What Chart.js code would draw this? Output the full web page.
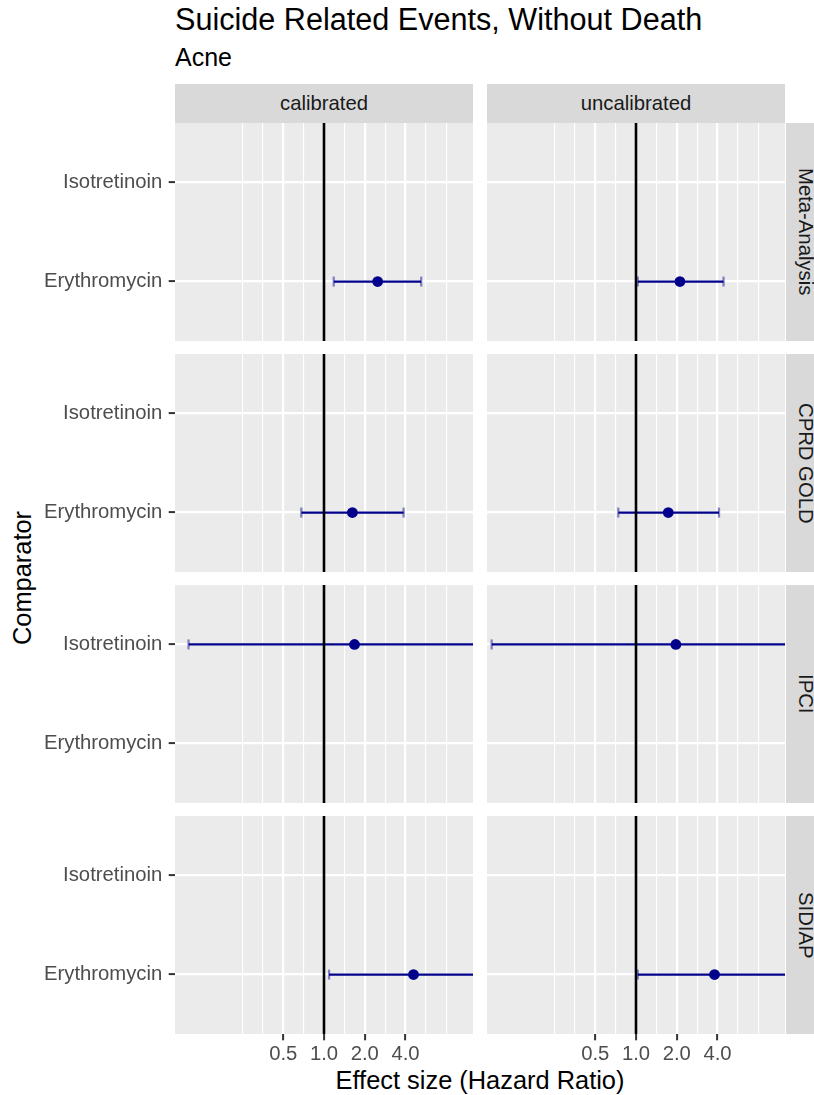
<!DOCTYPE html>
<html><head><meta charset="utf-8">
<script src="https://cdn.jsdelivr.net/npm/chart.js@4.4.0/dist/chart.umd.min.js"></script>
<style>
html,body{margin:0;padding:0;background:#fff;width:814px;height:1095px;overflow:hidden;position:relative;font-family:"Liberation Sans",Arial,sans-serif;}
.txt{position:absolute;white-space:nowrap;line-height:1;}
.strip{position:absolute;background:#D9D9D9;color:#1A1A1A;font-size:20.3px;display:flex;align-items:center;justify-content:center;overflow:hidden;}
.vstrip{writing-mode:vertical-rl;}
canvas{position:absolute;}
</style></head><body>
<div class="txt" style="left:175px;top:4.4px;font-size:30.6px;color:#000;">Suicide Related Events, Without Death</div>
<div class="txt" style="left:175px;top:44.8px;font-size:25px;color:#000;">Acne</div>
<div class="txt" style="left:480px;top:1067.8px;font-size:25.4px;color:#000;transform:translateX(-50%);">Effect size (Hazard Ratio)</div>
<div class="txt" style="left:23px;top:578px;font-size:25.4px;color:#000;transform:translate(-50%,-50%) rotate(-90deg);">Comparator</div>
<script>
// ---- data ----
const comparators = ['Erythromycin', 'Isotretinoin'];
const databases = ['Meta-Analysis', 'CPRD GOLD', 'IPCI', 'SIDIAP'];
const calibrations = ['calibrated', 'uncalibrated'];
const estDatabase = ['Meta-Analysis', 'Meta-Analysis', 'CPRD GOLD', 'CPRD GOLD', 'IPCI', 'IPCI', 'SIDIAP', 'SIDIAP'];
const estCalibration = ['calibrated', 'uncalibrated', 'calibrated', 'uncalibrated', 'calibrated', 'uncalibrated', 'calibrated', 'uncalibrated'];
const estComparator = ['Erythromycin', 'Erythromycin', 'Erythromycin', 'Erythromycin', 'Isotretinoin', 'Isotretinoin', 'Erythromycin', 'Erythromycin'];
const hazardRatio = [2.49, 2.11, 1.62, 1.73, 1.68, 1.97, 4.58, 3.80];
const ciLower = [1.18, 1.03, 0.68, 0.74, 0.10, 0.086, 1.09, 1.03];
const ciUpper = [5.22, 4.43, 3.87, 4.10, 28.2, 45.4, 19.2, 14.0];
const xGridValues = [0.25, 0.3536, 0.5, 0.7071, 1, 1.4142, 2, 2.8284, 4, 5.6569, 8];
const xLabelValues = [0.5, 1, 2, 4];
const xTickLabels = ['0.5', '1.0', '2.0', '4.0'];
const xLimits = [0.1, 10];
const refLine = 1;

// ---- layout ----
const colX = [175, 487];
const panelW = 298;
const rowY = [123, 354, 585, 816];
const panelH = 218;
const axisLeftW = 175;
const axisBottomH = 32;
const FONT = '"Liberation Sans", Arial, sans-serif';

function near(a, b) { return Math.abs(a - b) < 1e-6 * Math.max(1, Math.abs(b)); }
function labelIndex(v) { return xLabelValues.findIndex(l => near(l, v)); }

// strips
calibrations.forEach((cal, c) => {
  const d = document.createElement('div');
  d.className = 'strip';
  d.style.cssText = `left:${colX[c]}px;top:84px;width:${panelW}px;height:39px;`;
  d.textContent = cal;
  document.body.appendChild(d);
});
databases.forEach((db, r) => {
  const d = document.createElement('div');
  d.className = 'strip';
  d.style.cssText = `left:786px;top:${rowY[r]}px;width:39px;height:${panelH}px;`;
  const s = document.createElement('span');
  s.className = 'vstrip';
  s.textContent = db;
  d.appendChild(s);
  document.body.appendChild(d);
});

const panelBg = {
  id: 'panelBg',
  beforeDraw(chart) {
    const { ctx, chartArea: a } = chart;
    ctx.save();
    ctx.fillStyle = '#EBEBEB';
    ctx.fillRect(a.left, a.top, a.right - a.left, a.bottom - a.top);
    ctx.restore();
  }
};

// expanded log limits (5% each side in log space)
const lMin = Math.log10(xLimits[0]), lMax = Math.log10(xLimits[1]);
const ext = (lMax - lMin) * 0.05;
const xMin = Math.pow(10, lMin - ext), xMax = Math.pow(10, lMax + ext);
const yMin = 1 - 0.6, yMax = comparators.length + 0.6;

databases.forEach((db, r) => {
  calibrations.forEach((cal, c) => {
    const isLeft = c === 0, isBottom = r === databases.length - 1;
    const cv = document.createElement('canvas');
    const left = isLeft ? colX[c] - axisLeftW : colX[c];
    const w = isLeft ? panelW + axisLeftW : panelW;
    const h = panelH + (isBottom ? axisBottomH : 0);
    cv.width = w; cv.height = h;
    cv.style.left = left + 'px'; cv.style.top = rowY[r] + 'px';
    cv.style.width = w + 'px'; cv.style.height = h + 'px';
    document.body.appendChild(cv);

    const datasets = [{
      type: 'scatter', showLine: true,
      data: [{ x: refLine, y: yMin }, { x: refLine, y: yMax }],
      borderColor: '#000000', borderWidth: 2.6, pointRadius: 0, order: 2, clip: 0
    }];
    estDatabase.forEach((d, i) => {
      if (d !== db || estCalibration[i] !== cal) return;
      const y = comparators.indexOf(estComparator[i]) + 1;
      datasets.push({
        type: 'scatter', showLine: true,
        data: [{ x: ciLower[i], y }, { x: ciUpper[i], y }],
        borderColor: '#00008B', borderWidth: 2.3, pointRadius: 0, order: 4, clip: 0
      });
      datasets.push({
        type: 'scatter', showLine: false,
        data: [{ x: ciLower[i], y }, { x: ciUpper[i], y }],
        pointStyle: 'line', rotation: 90, pointRadius: 5,
        borderColor: 'rgba(0,0,139,0.45)', pointBorderColor: 'rgba(0,0,139,0.45)', pointBorderWidth: 2.3, order: 3, clip: 0
      });
      datasets.push({
        type: 'scatter', showLine: false,
        data: [{ x: hazardRatio[i], y }],
        pointRadius: 5.4, pointBackgroundColor: '#00008B', pointBorderWidth: 0, order: 1, clip: 0
      });
    });

    new Chart(cv, {
      type: 'scatter',
      data: { datasets },
      plugins: [panelBg],
      options: {
        responsive: false, animation: false, devicePixelRatio: 1,
        events: [],
        layout: { padding: 0, autoPadding: false },
        plugins: { legend: { display: false }, tooltip: { enabled: false } },
        scales: {
          x: {
            type: 'logarithmic', min: xMin, max: xMax,
            border: { display: false },
            afterBuildTicks(scale) { scale.ticks = xGridValues.map(v => ({ value: v })); },
            afterFit(scale) {
              scale.height = isBottom ? axisBottomH : 0;
              scale.paddingLeft = 0; scale.paddingRight = 0; scale.paddingTop = 0; scale.paddingBottom = 0;
            },
            grid: {
              color: '#FFFFFF',
              lineWidth: ctx => (ctx.tick && labelIndex(ctx.tick.value) >= 0) ? 2.2 : 1.1,
              drawTicks: isBottom, tickLength: 6.3, tickWidth: 2,
              tickColor: ctx => (ctx.tick && labelIndex(ctx.tick.value) >= 0) ? '#333333' : 'rgba(0,0,0,0)'
            },
            ticks: {
              display: isBottom, autoSkip: false, maxRotation: 0, minRotation: 0, padding: 1.5,
              color: '#4D4D4D', font: { family: FONT, size: 20.3 },
              callback: v => { const k = labelIndex(v); return k >= 0 ? xTickLabels[k] : ''; }
            }
          },
          y: {
            type: 'linear', min: yMin, max: yMax,
            border: { display: false },
            afterBuildTicks(scale) { scale.ticks = comparators.map((_, k) => ({ value: k + 1 })); },
            afterFit(scale) {
              scale.width = isLeft ? axisLeftW : 0;
              scale.paddingLeft = 0; scale.paddingRight = 0; scale.paddingTop = 0; scale.paddingBottom = 0;
            },
            grid: {
              color: '#FFFFFF', lineWidth: 2.2,
              drawTicks: isLeft, tickLength: 6.3, tickWidth: 2, tickColor: '#333333'
            },
            ticks: {
              display: isLeft, autoSkip: false, padding: 6.4,
              color: '#4D4D4D', font: { family: FONT, size: 20.3 },
              callback: v => comparators[Math.round(v) - 1] || ''
            }
          }
        }
      }
    });
  });
});
</script>
</body></html>
